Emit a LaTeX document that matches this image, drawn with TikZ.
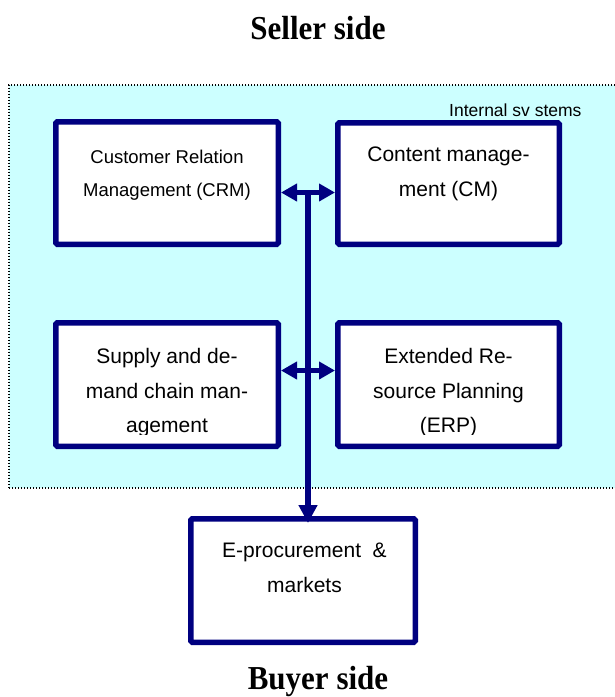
\documentclass[tikz,border=0pt]{standalone}
\usepackage{fontspec}
\setmainfont{Liberation Sans}
\newfontfamily\titlefont{Liberation Serif}
\usetikzlibrary{arrows.meta}
\definecolor{navy}{RGB}{0,0,128}
\definecolor{panelcyan}{RGB}{204,255,255}

\begin{document}
\begin{tikzpicture}[x=1pt,y=-1pt,
  panelbox/.style={draw=black, fill=panelcyan, line width=1.4pt,
    dash pattern=on 1.4pt off 1.6pt, inner sep=0pt, outer sep=0pt},
  sysbox/.style={draw=navy, fill=white, line width=5.5pt, rounded corners=1.5pt,
    inner sep=0pt},
  boxtext/.style={font=\fontsize{21}{34.5}\selectfont, align=center, anchor=base,
    inner sep=0pt},
  smalltext/.style={font=\fontsize{18.5}{33}\selectfont, align=center, anchor=base,
    inner sep=0pt},
  heading/.style={font=\titlefont\bfseries\fontsize{31}{36}\selectfont, anchor=base,
    inner sep=0pt},
  link/.style={draw=navy, line width=5.7pt},
  bothtips/.style={arrows={Triangle[length=16pt,width=17pt]-Triangle[length=16pt,width=17pt]}},
  endtip/.style={arrows={-Triangle[length=18pt,width=18pt]}}
]
\clip (0,0) rectangle (615,697);

% titles
\node[heading] (seller) at (318,39.5) {\scalebox{1}[1.08]{Seller side}};
\node[heading] (buyer) at (318,689.5) {\scalebox{1}[1.08]{Buyer side}};

% internal systems panel (runs off the right edge)
\node[panelbox, minimum width=613pt, minimum height=403pt] (panel) at (315.5,286.5) {};
\node[font=\fontsize{17.5}{20}\selectfont, anchor=base east, inner sep=0pt]
  (internal) at (581.7,116.7) {Internal sv stems};

% system boxes
\node[sysbox, minimum width=222.5pt, minimum height=122.5pt] (crm) at (167,183) {};
\node[sysbox, minimum width=221.5pt, minimum height=121.5pt] (cm) at (448.5,183.5) {};
\node[sysbox, minimum width=222.5pt, minimum height=123.5pt] (scm) at (167,384.5) {};
\node[sysbox, minimum width=221.5pt, minimum height=123.5pt] (erp) at (448.5,384.5) {};
\node[sysbox, minimum width=224.5pt, minimum height=123.5pt] (eproc) at (303,580.5) {};

% box texts, placed by the baseline of their last line
\node[smalltext] (crmtext) at (crm |- 0,196) {Customer Relation\\Management (CRM)};
\node[boxtext] (cmtext) at (cm |- 0,196) {Content manage-\\ment (CM)};
\begin{scope}
  \clip (50,318) rectangle (566,434.5);
  \node[boxtext] (scmtext) at (scm |- 0,432.7) {Supply and de-\\mand chain man-\\agement};
  \node[boxtext] (erptext) at (erp |- 0,432.7) {Extended Re-\\source Planning\\(ERP)};
\end{scope}
\node[boxtext] (eproctext) at (304.5,592.3) {E-procurement\ \ \&\\markets};

% connectors
\coordinate (j1) at (308,192.5);
\coordinate (j2) at (308,370.5);
\draw[link, bothtips] (j1 -| crm.east) -- (j1 -| cm.west);
\draw[link, bothtips] (j2 -| scm.east) -- (j2 -| erp.west);
\draw[link, endtip] (j1) -- ([yshift=-7pt]j1 |- eproc.north);
\end{tikzpicture}
\end{document}
